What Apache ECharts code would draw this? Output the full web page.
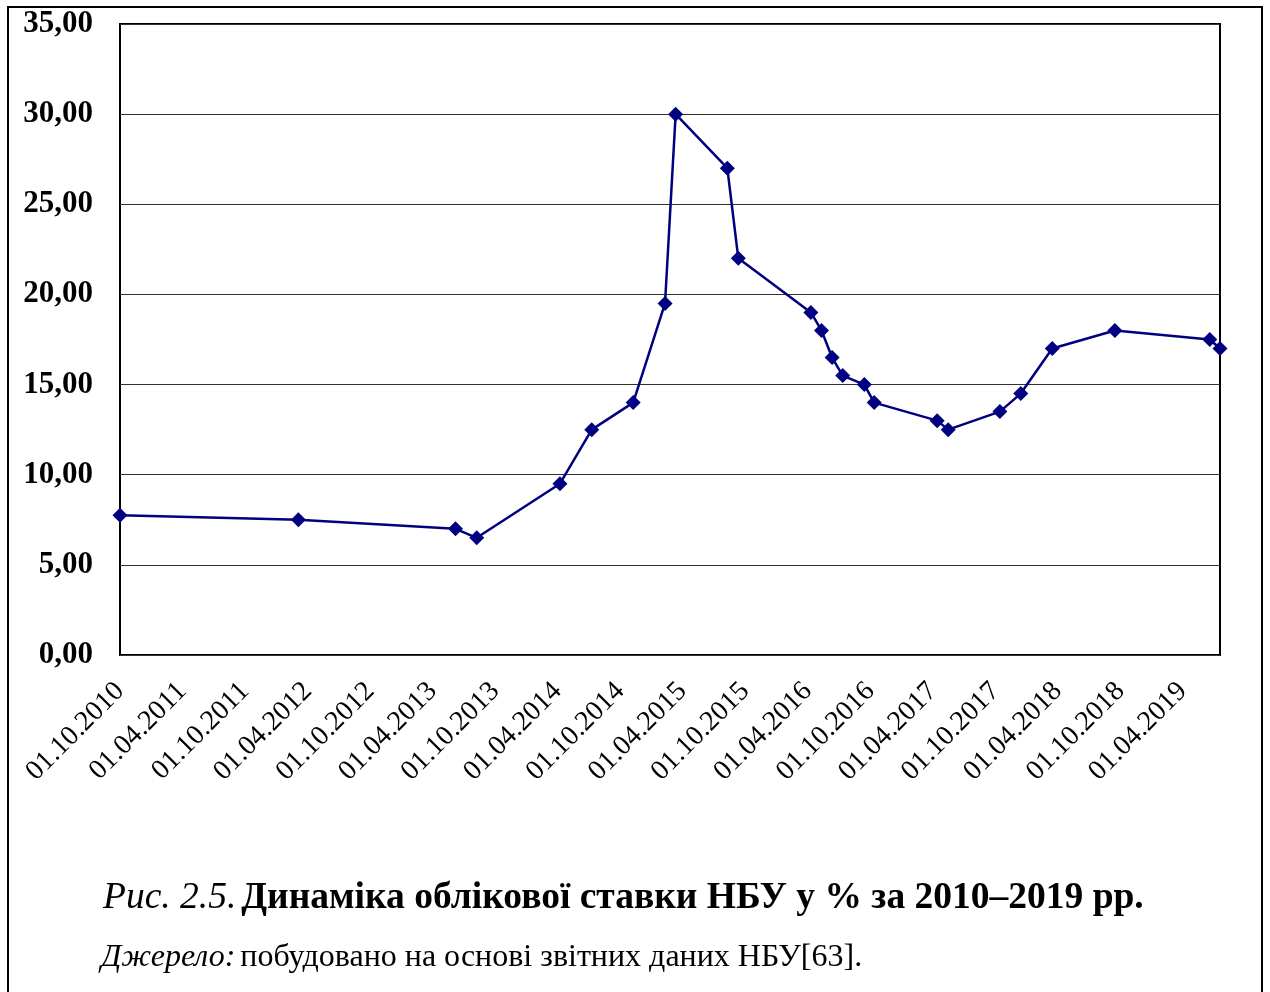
<!DOCTYPE html>
<html>
<head>
<meta charset="utf-8">
<script src="https://cdn.jsdelivr.net/npm/echarts@6/dist/echarts.min.js"></script>
<style>
  html, body { margin: 0; padding: 0; background: #fff; }
  #chart { width: 1270px; height: 992px; }
</style>
</head>
<body>
<div id="chart"></div>
<script>
// Dates of NBU discount rate changes (DD.MM.YYYY) and the rate set on each date, %
const rateDates = [
  '01.10.2010', '05.03.2012', '07.06.2013', '08.08.2013', '08.04.2014',
  '10.07.2014', '08.11.2014', '09.02.2015', '12.03.2015', '10.08.2015',
  '11.09.2015', '10.04.2016', '11.05.2016', '11.06.2016', '12.07.2016',
  '13.09.2016', '12.10.2016', '14.04.2017', '16.05.2017', '14.10.2017',
  '14.12.2017', '16.03.2018', '15.09.2018', '19.06.2019', '19.07.2019'
];
const rateValues = [
  7.75, 7.5, 7.0, 6.5, 9.5,
  12.5, 14.0, 19.5, 30.0, 27.0,
  22.0, 19.0, 18.0, 16.5, 15.5,
  15.0, 14.0, 13.0, 12.5, 13.5,
  14.5, 17.0, 18.0, 17.5, 17.0
];
// Half-year tick labels on the date axis
const tickLabels = [
  '01.10.2010', '01.04.2011', '01.10.2011', '01.04.2012', '01.10.2012',
  '01.04.2013', '01.10.2013', '01.04.2014', '01.10.2014', '01.04.2015',
  '01.10.2015', '01.04.2016', '01.10.2016', '01.04.2017', '01.10.2017',
  '01.04.2018', '01.10.2018', '01.04.2019'
];
const yTicks = [0, 5, 10, 15, 20, 25, 30, 35];

// Dates are kept as day numbers (UTC) so the axis is linear in time
const DAY = 86400000;
function parseDay(s) {
  const [d, m, y] = s.split('.').map(Number);
  return Math.round(Date.UTC(y, m - 1, d) / DAY);
}
function pad(n) { return n < 10 ? '0' + n : '' + n; }
function fmtDay(v) {
  const d = new Date(Math.round(v) * DAY);
  return pad(d.getUTCDate()) + '.' + pad(d.getUTCMonth() + 1) + '.' + d.getUTCFullYear();
}

const seriesData = rateDates.map((s, i) => [parseDay(s), rateValues[i]]);
const tickDays = tickLabels.map(parseDay);

const serif = '"Liberation Serif", "Times New Roman", serif';

const chart = echarts.init(document.getElementById('chart'), null, { renderer: 'canvas' });
chart.setOption({
  animation: false,
  backgroundColor: '#fff',
  title: [
    {
      left: 98, top: 874,
      text: '{i|Рис. 2.5.} {b|Динаміка облікової ставки НБУ у % за 2010–2019 рр.}',
      textStyle: {
        fontWeight: 'normal',
        rich: {
          i: { fontFamily: serif, fontStyle: 'italic', fontWeight: 'normal', fontSize: 37.5, color: '#000' },
          b: { fontFamily: serif, fontWeight: 'bold', fontSize: 37.5, color: '#000' }
        }
      }
    },
    {
      left: 96, top: 937,
      text: '{i|Джерело:} {n|побудовано на основі звітних даних НБУ[63].}',
      textStyle: {
        fontWeight: 'normal',
        rich: {
          i: { fontFamily: serif, fontStyle: 'italic', fontWeight: 'normal', fontSize: 32, color: '#000' },
          n: { fontFamily: serif, fontWeight: 'normal', fontSize: 32, color: '#000' }
        }
      }
    }
  ],
  graphic: [
    {
      type: 'rect',
      shape: { x: 8, y: 7, width: 1254, height: 1000 },
      style: { fill: 'none', stroke: '#000', lineWidth: 2 },
      silent: true
    }
  ],
  grid: {
    left: 120, top: 24, right: 50, bottom: 337,
    show: true, borderColor: '#000', borderWidth: 2, backgroundColor: 'transparent'
  },
  xAxis: {
    type: 'value',
    min: tickDays[0],
    max: seriesData[seriesData.length - 1][0],
    axisLine: { show: false },
    axisTick: { show: false },
    splitLine: { show: false },
    axisLabel: {
      customValues: tickDays,
      rotate: 45,
      margin: 32,
      fontFamily: serif,
      fontSize: 28,
      color: '#000',
      hideOverlap: false,
      formatter: (v) => fmtDay(v)
    }
  },
  yAxis: {
    type: 'value',
    min: yTicks[0],
    max: yTicks[yTicks.length - 1],
    interval: 5,
    axisLine: { show: false },
    axisTick: { show: false },
    splitLine: { show: true, lineStyle: { color: '#333', width: 1 } },
    axisLabel: {
      margin: 27,
      fontFamily: serif,
      fontWeight: 'bold',
      fontSize: 31,
      color: '#000',
      formatter: (v) => v.toFixed(2).replace('.', ',')
    }
  },
  series: [
    {
      type: 'line',
      data: seriesData,
      symbol: 'diamond',
      symbolSize: 15,
      lineStyle: { color: '#000080', width: 2.5 },
      itemStyle: { color: '#000080' },
      clip: false
    }
  ]
});
</script>
</body>
</html>
